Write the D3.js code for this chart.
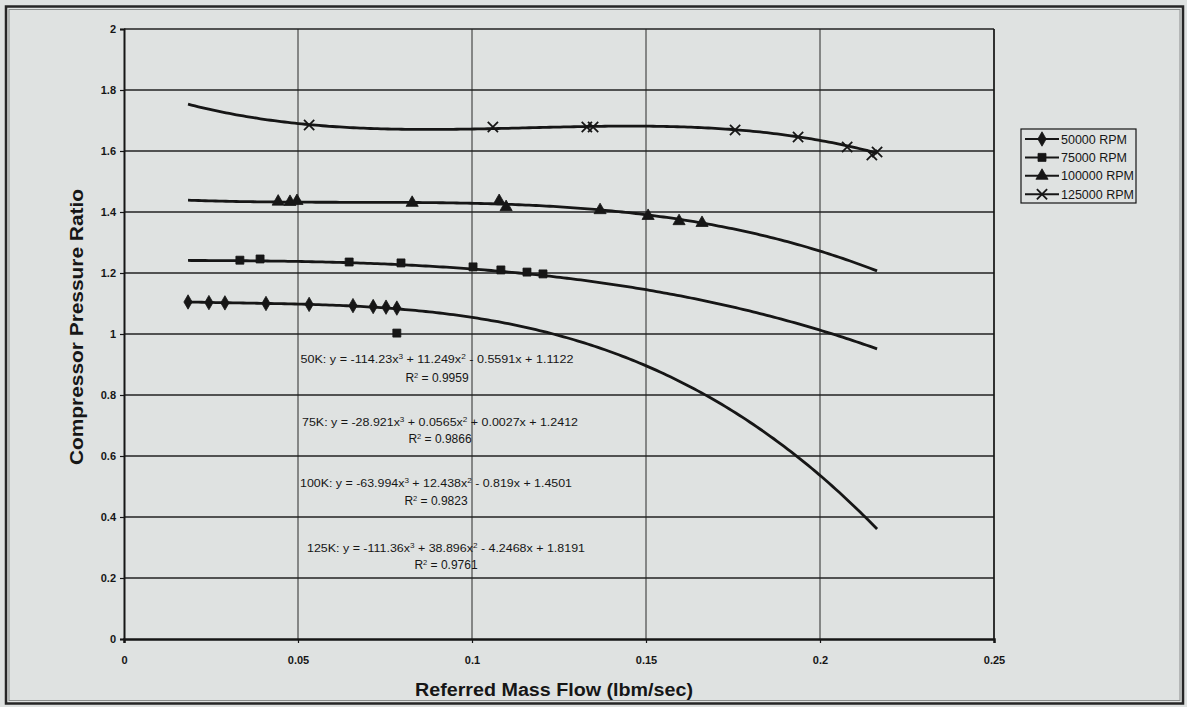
<!DOCTYPE html>
<html>
<head>
<meta charset="utf-8">
<script src="https://cdn.jsdelivr.net/npm/d3@7"></script>
<style>
  body { margin: 0; background: #dfe2e1; }
  svg { display: block; }
  text { font-family: "Liberation Sans", Arial, sans-serif; fill: #161616; }
</style>
</head>
<body>
<svg id="chart" width="1187" height="707"></svg>
<script>
// Compressor map: pressure ratio vs referred mass flow at four shaft speeds
const speeds = ["50000 RPM", "75000 RPM", "100000 RPM", "125000 RPM"];
const fitNames = ["50K", "75K", "100K", "125K"];

// Measured points (referred mass flow in lbm/sec, pressure ratio)
const flow50 = [0.0184, 0.0244, 0.0290, 0.0408, 0.0532, 0.0658, 0.0716, 0.0753, 0.0784];
const pr50   = [1.105, 1.103, 1.102, 1.100, 1.097, 1.093, 1.090, 1.088, 1.085];

const flow75 = [0.0333, 0.0391, 0.0647, 0.0784, 0.0796, 0.1003, 0.1083, 0.1158, 0.1204];
const pr75   = [1.242, 1.246, 1.236, 1.003, 1.233, 1.220, 1.210, 1.203, 1.197];

const flow100 = [0.0443, 0.0477, 0.0497, 0.0828, 0.1078, 0.1098, 0.1368, 0.1506, 0.1595, 0.1661];
const pr100   = [1.434, 1.433, 1.436, 1.430, 1.436, 1.416, 1.406, 1.387, 1.370, 1.364];

const flow125 = [0.0532, 0.1060, 0.1330, 0.1348, 0.1756, 0.1937, 0.2078, 0.2149, 0.2164];
const pr125   = [1.685, 1.679, 1.679, 1.679, 1.669, 1.646, 1.613, 1.587, 1.597];

// Cubic trendline coefficients (x^3, x^2, x, 1) and R^2
const fit50  = [-114.23, 11.249, -0.5591, 1.1122];
const fit75  = [-28.921, 0.0565, 0.0027, 1.2412];
const fit100 = [-63.994, 12.438, -0.819, 1.4501];
const fit125 = [-111.36, 38.896, -4.2468, 1.8191];
const rSquared = ["0.9959", "0.9866", "0.9823", "0.9761"];

const xTicks = [0, 0.05, 0.1, 0.15, 0.2, 0.25];
const yTicks = [0, 0.2, 0.4, 0.6, 0.8, 1, 1.2, 1.4, 1.6, 1.8, 2];

const series = [
  { name: speeds[0], flow: flow50,  pr: pr50,  fit: fit50,  symbol: d3.symbolDiamond,  size: 60, fill: true },
  { name: speeds[1], flow: flow75,  pr: pr75,  fit: fit75,  symbol: d3.symbolSquare,   size: 64, fill: true },
  { name: speeds[2], flow: flow100, pr: pr100, fit: fit100, symbol: d3.symbolTriangle, size: 64, fill: true },
  { name: speeds[3], flow: flow125, pr: pr125, fit: fit125, symbol: d3.symbolTimes,    size: 70, fill: false }
];

const svg = d3.select("#chart");
const ink = "#161616";

// outer frame
svg.append("rect").attr("x", 6).attr("y", 6.5).attr("width", 1177).attr("height", 697)
  .attr("fill", "#dfe2e1").attr("stroke", "#262626").attr("stroke-width", 2.5);
svg.append("rect").attr("x", 9).attr("y", 9.5).attr("width", 1171).attr("height", 691)
  .attr("fill", "none").attr("stroke", "#8a8d8c").attr("stroke-width", 1);

const x = d3.scaleLinear().domain([0, 0.25]).range([124, 994]);
const y = d3.scaleLinear().domain([0, 2]).range([639, 29]);

// gridlines
svg.append("g").selectAll("line").data(xTicks.slice(1)).join("line")
  .attr("x1", d => x(d)).attr("x2", d => x(d)).attr("y1", y(0)).attr("y2", y(2))
  .attr("stroke", "#2a2a2a").attr("stroke-width", 1);
svg.append("g").selectAll("line").data(yTicks.slice(1)).join("line")
  .attr("x1", x(0)).attr("x2", x(0.25)).attr("y1", d => y(d)).attr("y2", d => y(d))
  .attr("stroke", "#222").attr("stroke-width", 1.5);

const fmt = d => String(+d.toFixed(2));

// axes
const yAxis = svg.append("g").attr("transform", `translate(${x(0)},0)`)
  .call(d3.axisLeft(y).tickValues(yTicks).tickSize(4).tickPadding(4).tickFormat(fmt));
const xAxis = svg.append("g").attr("transform", `translate(0,${y(0)})`)
  .call(d3.axisBottom(x).tickValues(xTicks).tickSize(4).tickPadding(13).tickFormat(fmt));
[xAxis, yAxis].forEach(a => {
  a.select(".domain").attr("stroke", ink).attr("stroke-width", 2);
  a.selectAll(".tick line").attr("stroke", ink).attr("stroke-width", 1.2);
  a.selectAll(".tick text").attr("fill", ink).style("font-size", "11px").style("font-weight", "bold")
    .style("font-family", '"Liberation Sans", Arial, sans-serif');
});
xAxis.select(".domain").attr("stroke-width", 2.5);

// right border of plot area
svg.append("line").attr("x1", x(0.25)).attr("x2", x(0.25)).attr("y1", y(0)).attr("y2", y(2))
  .attr("stroke", ink).attr("stroke-width", 1.5);

// axis titles
svg.append("text").attr("x", 554).attr("y", 696).attr("text-anchor", "middle")
  .style("font-size", "18px").style("font-weight", "bold")
  .attr("textLength", 278).attr("lengthAdjust", "spacingAndGlyphs")
  .text("Referred Mass Flow (lbm/sec)");
svg.append("text").attr("transform", "translate(83,327) rotate(-90)").attr("text-anchor", "middle")
  .style("font-size", "18px").style("font-weight", "bold")
  .attr("textLength", 276).attr("lengthAdjust", "spacingAndGlyphs")
  .text("Compressor Pressure Ratio");

// trendlines across the measured flow range
const allFlows = [].concat(flow50, flow75, flow100, flow125);
const [f0, f1] = d3.extent(allFlows);
const poly = (c, v) => c.reduce((acc, k) => acc * v + k, 0);
const line = d3.line().x(d => x(d[0])).y(d => y(d[1]));
series.forEach(s => {
  const pts = d3.range(0, 201).map(i => {
    const v = f0 + (f1 - f0) * i / 200;
    return [v, poly(s.fit, v)];
  });
  svg.append("path").attr("d", line(pts)).attr("fill", "none")
    .attr("stroke", ink).attr("stroke-width", 2.8);
});

// markers
series.forEach(s => {
  const sym = d3.symbol().type(s.symbol).size(s.size);
  svg.append("g").selectAll("path").data(s.flow.map((f, i) => [f, s.pr[i]])).join("path")
    .attr("d", sym)
    .attr("transform", d => `translate(${x(d[0])},${y(d[1])})`)
    .attr("fill", s.fill ? ink : "none")
    .attr("stroke", ink).attr("stroke-width", s.fill ? 0.8 : 1.8);
});

// trendline equations
const fits = [fit50, fit75, fit100, fit125];
const eqPos = [[437, 363, 382], [440, 426, 443], [436, 487, 505], [446, 552, 569]];
const eqWidth = [273, 276, 272, 278];
fits.forEach((c, i) => {
  const t = svg.append("text").attr("x", eqPos[i][0]).attr("y", eqPos[i][1])
    .attr("text-anchor", "middle").style("font-size", "11.5px")
    .attr("textLength", eqWidth[i]).attr("lengthAdjust", "spacingAndGlyphs");
  t.append("tspan").text(`${fitNames[i]}: y = ${c[0]}x`);
  t.append("tspan").attr("dy", -4).style("font-size", "7.5px").text("3");
  t.append("tspan").attr("dy", 4).text(` ${c[1] < 0 ? "-" : "+"} ${Math.abs(c[1])}x`);
  t.append("tspan").attr("dy", -4).style("font-size", "7.5px").text("2");
  t.append("tspan").attr("dy", 4).text(` ${c[2] < 0 ? "-" : "+"} ${Math.abs(c[2])}x ${c[3] < 0 ? "-" : "+"} ${Math.abs(c[3])}`);

  const r = svg.append("text").attr("x", eqPos[i][0]).attr("y", eqPos[i][2])
    .attr("text-anchor", "middle").style("font-size", "12px");
  r.append("tspan").text("R");
  r.append("tspan").attr("dy", -4).style("font-size", "7.5px").text("2");
  r.append("tspan").attr("dy", 4).text(` = ${rSquared[i]}`);
});

// legend
const lg = svg.append("g");
lg.append("rect").attr("x", 1021).attr("y", 129).attr("width", 115).attr("height", 74)
  .attr("fill", "#dfe2e1").attr("stroke", ink).attr("stroke-width", 1.2);
series.forEach((s, i) => {
  const ly = 139 + i * 18.4;
  lg.append("line").attr("x1", 1025).attr("x2", 1059).attr("y1", ly).attr("y2", ly)
    .attr("stroke", ink).attr("stroke-width", 2);
  lg.append("path").attr("d", d3.symbol().type(s.symbol).size(s.size)())
    .attr("transform", `translate(1042,${ly})`)
    .attr("fill", s.fill ? ink : "none").attr("stroke", ink).attr("stroke-width", s.fill ? 0.8 : 1.8);
  lg.append("text").attr("x", 1061).attr("y", ly + 4.5).style("font-size", "12.5px").text(s.name);
});
</script>
</body>
</html>
